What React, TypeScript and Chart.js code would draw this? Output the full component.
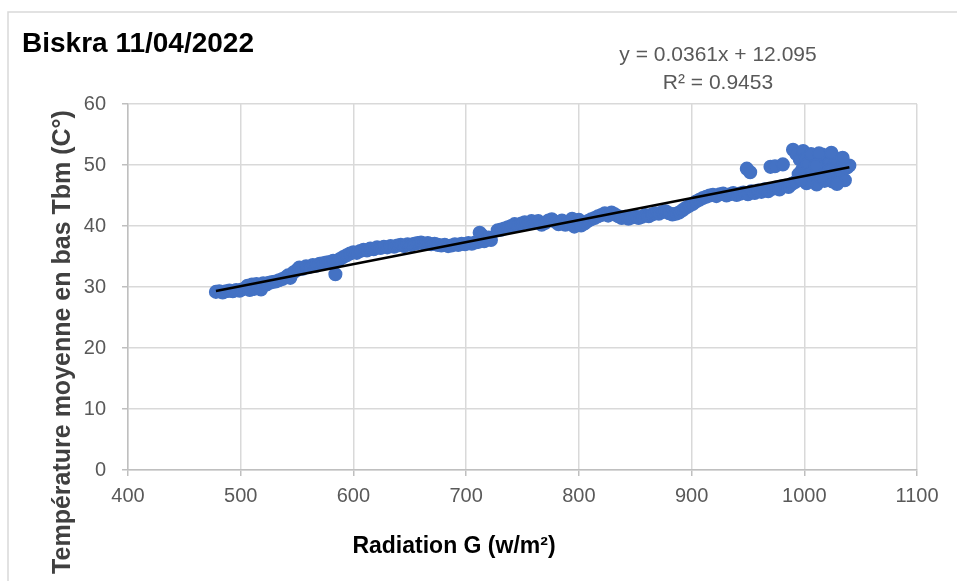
import React, { useEffect, useRef } from "react";
import { Chart, registerables } from "chart.js";

Chart.register(...registerables);

const chartTitle = "Biskra 11/04/2022";
const xAxisTitle = "Radiation G (w/m²)";
const yAxisTitle = "Température moyenne en bas Tbm (C°)";
const equationText = "y = 0.0361x + 12.095";
const rSquaredText = "R² = 0.9453";

const trendSlope = 0.0361;
const trendIntercept = 12.095;
const trendRange = [478, 1040];

const xTicks = { min: 400, max: 1100, step: 100 };
const yTicks = { min: 0, max: 60, step: 10 };

// [radiation G (w/m²), temperature Tbm (°C)]
const observations: [number, number][] = [
  [478, 29.2], [481, 29.3], [484, 29.1], [487, 29.3], [490, 29.4], [493, 29.3], [496, 29.5], [499, 29.4], [501, 29.6],
  [504, 29.8], [506, 30.2], [508, 29.5], [510, 30.4], [512, 29.7], [514, 30.5], [516, 30.1], [518, 29.6], [520, 30.6], [523, 30.4], [525, 30.7],
  [528, 30.8], [531, 30.9], [534, 31.1], [537, 31.3], [540, 31.6], [542, 31.9], [544, 31.5],
  [547, 32.4], [550, 32.8], [552, 33.2], [555, 33.0], [558, 33.4], [561, 33.3],
  [564, 33.6], [567, 33.5], [570, 33.8], [573, 33.9], [576, 34.0], [579, 34.1], [582, 34.3], [584, 32.1], [585, 34.2],
  [588, 34.6], [591, 34.9], [594, 35.2], [597, 35.5], [600, 35.7],
  [603, 35.6], [606, 35.9], [609, 36.1], [612, 36.0], [615, 36.3], [618, 36.2], [621, 36.5], [624, 36.4], [627, 36.6], [630, 36.5], [633, 36.7], [636, 36.6], [639, 36.8],
  [642, 36.9], [645, 36.7], [648, 37.0], [651, 36.9], [654, 37.1], [657, 37.2], [660, 37.3], [663, 37.1], [666, 37.2], [669, 37.0],
  [672, 37.1], [675, 36.9], [678, 36.8], [681, 36.9], [684, 36.7], [687, 36.8], [690, 37.0], [693, 36.9], [696, 37.1], [699, 37.0],
  [702, 37.2], [705, 37.1], [708, 37.3], [711, 37.4], [712, 38.9], [714, 38.5], [716, 37.5], [718, 37.8], [720, 38.1], [722, 37.7],
  [728, 39.3], [731, 39.4], [734, 39.6], [737, 39.8], [740, 40.0], [743, 40.3], [746, 40.1], [749, 40.4], [752, 40.6], [755, 40.5],
  [758, 40.8], [761, 40.6], [764, 40.8], [767, 40.2], [770, 40.5], [773, 40.9], [776, 41.1], [779, 40.7],
  [782, 40.3], [785, 40.9], [788, 40.2], [791, 40.6], [794, 41.2], [796, 39.9], [798, 40.5], [800, 41.0], [802, 40.1], [805, 40.4],
  [808, 40.8], [811, 41.1], [814, 41.3], [817, 41.6], [820, 41.8], [823, 42.1], [826, 41.7], [829, 42.2],
  [832, 41.9], [835, 41.6], [838, 41.3], [841, 41.5], [844, 41.2], [847, 41.4], [850, 41.6], [853, 41.3], [856, 41.5], [859, 41.8],
  [862, 41.6], [865, 41.9], [868, 42.1], [871, 42.0], [874, 42.3], [877, 42.4], [880, 42.1], [883, 41.9], [886, 42.0], [889, 42.2],
  [892, 42.6], [895, 43.0], [898, 43.3], [901, 43.6], [904, 44.0], [907, 44.3], [910, 44.6], [913, 44.8], [916, 45.0], [919, 45.1],
  [922, 44.9], [925, 45.2], [928, 45.3], [931, 45.0], [934, 45.2], [937, 45.4], [940, 45.1], [943, 45.3],
  [946, 45.5], [949, 49.4], [952, 48.8], [950, 45.2], [953, 45.7], [956, 45.4], [959, 45.8], [962, 45.6], [965, 46.0], [968, 45.7],
  [970, 49.7], [974, 49.8], [972, 46.1], [975, 46.3], [978, 46.0], [981, 50.1], [980, 46.5], [983, 46.6], [986, 46.4], [989, 46.9],
  [990, 52.5], [993, 51.8], [996, 50.9], [999, 52.3], [1001, 51.0], [998, 49.2], [992, 47.2], [995, 48.5], [1003, 50.2], [1005, 47.6],
  [1007, 48.9], [1009, 51.4], [1011, 46.8], [1012, 50.6], [1014, 49.6], [1016, 51.7], [1018, 47.4], [1019, 48.7], [1021, 51.5], [1023, 50.5],
  [1025, 47.3], [1026, 49.8], [1028, 51.1], [1030, 47.8], [1031, 49.2], [1033, 48.5], [1035, 50.3], [1036, 47.5], [1038, 49.6], [1040, 49.9],
  [1002, 47.0], [1015, 48.0], [1006, 51.8], [1013, 51.9], [1022, 49.0], [1010, 49.9], [997, 47.6], [1029, 46.9], [1024, 52.0], [1034, 51.2],
];

const FONT = "'Liberation Sans', Arial, sans-serif";

const decorations = {
  id: "decorations",
  beforeDraw(chart: any) {
    const ctx = chart.ctx;
    ctx.save();
    ctx.fillStyle = "#ffffff";
    ctx.fillRect(0, 0, chart.width, chart.height);
    ctx.strokeStyle = "#d9d9d9";
    ctx.lineWidth = 1.5;
    ctx.beginPath();
    ctx.moveTo(8, chart.height);
    ctx.lineTo(8, 12);
    ctx.lineTo(chart.width, 12);
    ctx.stroke();
    ctx.restore();
  },
  afterDraw(chart: any) {
    const ctx = chart.ctx;
    ctx.save();
    ctx.textBaseline = "alphabetic";
    ctx.fillStyle = "#000000";
    ctx.font = `bold 28px ${FONT}`;
    ctx.textAlign = "left";
    ctx.fillText(chartTitle, 22, 52);
    ctx.fillStyle = "#595959";
    ctx.font = `21px ${FONT}`;
    ctx.textAlign = "center";
    ctx.fillText(equationText, 718, 61);
    ctx.fillText(rSquaredText, 718, 89);
    ctx.fillStyle = "#000000";
    ctx.font = `bold 23px ${FONT}`;
    ctx.fillText(xAxisTitle, 454, 553);
    ctx.fillStyle = "#404040";
    ctx.font = `bold 25px ${FONT}`;
    ctx.translate(70, 342);
    ctx.rotate(-Math.PI / 2);
    ctx.fillText(yAxisTitle, 0, 0);
    ctx.restore();
  },
};

export default function App() {
  const canvasRef = useRef<HTMLCanvasElement | null>(null);

  useEffect(() => {
    document.body.style.margin = "0";
    const canvas = canvasRef.current;
    if (!canvas) return;
    const points = observations.map(([x, y]) => ({ x, y }));
    const trend = trendRange.map((x) => ({ x, y: trendSlope * x + trendIntercept }));

    const chart = new Chart(canvas, {
      type: "scatter",
      data: {
        datasets: [
          {
            label: "Trend",
            data: trend,
            showLine: true,
            borderColor: "#000000",
            borderWidth: 2.5,
            pointRadius: 0,
            order: 0,
          },
          {
            label: "Tbm",
            data: points,
            backgroundColor: "#4472C4",
            borderColor: "#4472C4",
            borderWidth: 1.5,
            pointRadius: 6.3,
            order: 1,
          },
        ],
      },
      options: {
        responsive: false,
        animation: false,
        devicePixelRatio: 1,
        layout: { padding: { left: 0, top: 104, right: 40, bottom: 0 } },
        plugins: {
          legend: { display: false },
          tooltip: { enabled: false },
          title: { display: false },
        },
        scales: {
          x: {
            type: "linear",
            min: xTicks.min,
            max: xTicks.max,
            afterFit(scale: any) {
              scale.height = 111;
            },
            ticks: {
              stepSize: xTicks.step,
              color: "#595959",
              font: { family: FONT, size: 20 },
              padding: 8,
              callback: (v: any) => String(v),
            },
            grid: {
              color: "#d9d9d9",
              lineWidth: 1.5,
              tickLength: 6,
              tickColor: "#bfbfbf",
            },
            border: { display: true, color: "#bfbfbf", width: 1.5 },
          },
          y: {
            type: "linear",
            min: yTicks.min,
            max: yTicks.max,
            afterFit(scale: any) {
              scale.width = 128;
            },
            ticks: {
              stepSize: yTicks.step,
              color: "#595959",
              font: { family: FONT, size: 20 },
              padding: 16,
              callback: (v: any) => String(v),
            },
            grid: {
              color: "#d9d9d9",
              lineWidth: 1.5,
              tickLength: 6,
              tickColor: "#bfbfbf",
            },
            border: { display: true, color: "#bfbfbf", width: 1.5 },
          },
        },
      },
      plugins: [decorations],
    });
    return () => chart.destroy();
  }, []);

  return (
    <div style={{ width: 957, height: 581 }}>
      <canvas ref={canvasRef} width={957} height={581} style={{ display: "block" }} />
    </div>
  );
}
